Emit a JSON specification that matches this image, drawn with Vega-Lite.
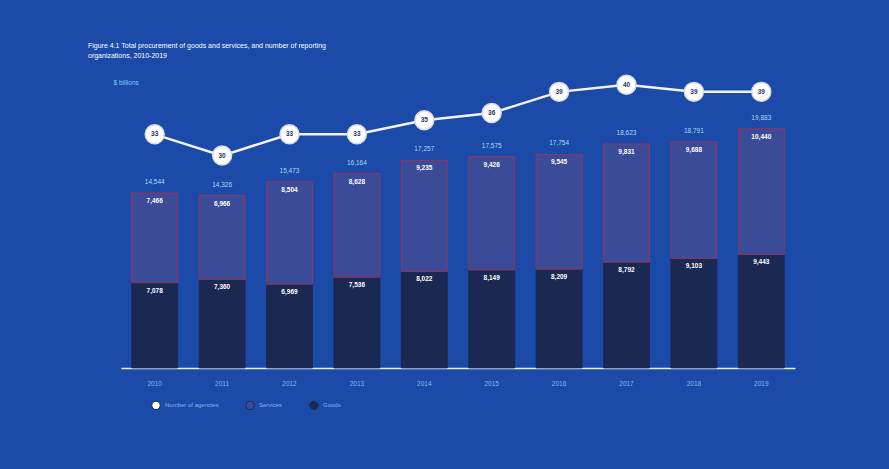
{
  "$schema": "https://vega.github.io/schema/vega-lite/v6.json",
  "width": 674,
  "height": 308,
  "autosize": {"type": "none"},
  "padding": {"left": 121, "top": 60, "right": 94, "bottom": 101},
  "background": "#1b4aa8",
  "config": {"view": {"stroke": null}, "font": "Liberation Sans"},
  "title": {
    "text": ["Figure 4.1 Total procurement of goods and services, and number of reporting", "organizations, 2010-2019"],
    "anchor": "start",
    "frame": "group",
    "dx": -33,
    "offset": 1,
    "fontSize": 7,
    "fontWeight": "normal",
    "color": "#ffffff",
    "lineHeight": 10
  },
  "datasets": {
    "proc": [
      {"year": "2010", "type": "Goods", "value": 7078},
      {"year": "2010", "type": "Services", "value": 7466},
      {"year": "2011", "type": "Goods", "value": 7360},
      {"year": "2011", "type": "Services", "value": 6966},
      {"year": "2012", "type": "Goods", "value": 6969},
      {"year": "2012", "type": "Services", "value": 8504},
      {"year": "2013", "type": "Goods", "value": 7536},
      {"year": "2013", "type": "Services", "value": 8628},
      {"year": "2014", "type": "Goods", "value": 8022},
      {"year": "2014", "type": "Services", "value": 9235},
      {"year": "2015", "type": "Goods", "value": 8149},
      {"year": "2015", "type": "Services", "value": 9426},
      {"year": "2016", "type": "Goods", "value": 8209},
      {"year": "2016", "type": "Services", "value": 9545},
      {"year": "2017", "type": "Goods", "value": 8792},
      {"year": "2017", "type": "Services", "value": 9831},
      {"year": "2018", "type": "Goods", "value": 9103},
      {"year": "2018", "type": "Services", "value": 9688},
      {"year": "2019", "type": "Goods", "value": 9443},
      {"year": "2019", "type": "Services", "value": 10440}
    ],
    "agencies": [
      {"year": "2010", "orgs": 33},
      {"year": "2011", "orgs": 30},
      {"year": "2012", "orgs": 33},
      {"year": "2013", "orgs": 33},
      {"year": "2014", "orgs": 35},
      {"year": "2015", "orgs": 36},
      {"year": "2016", "orgs": 39},
      {"year": "2017", "orgs": 40},
      {"year": "2018", "orgs": 39},
      {"year": "2019", "orgs": 39}
    ]
  },
  "encoding": {
    "x": {
      "field": "year",
      "type": "ordinal",
      "scale": {"paddingInner": 0.32, "paddingOuter": 0.16},
      "axis": {
        "title": null,
        "labelAngle": 0,
        "labelFontSize": 6.5,
        "labelColor": "#7fbde8",
        "labelPadding": 12,
        "ticks": false,
        "domainColor": "#e8f0ff",
        "domainWidth": 1.5
      }
    }
  },
  "layer": [
    {
      "data": {"name": "proc"},
      "layer": [
        {
          "mark": {"type": "bar", "width": 46, "strokeWidth": 1, "strokeOpacity": 0.8},
          "encoding": {
            "y": {
              "field": "value",
              "type": "quantitative",
              "stack": "zero",
              "scale": {"domain": [0, 25600]},
              "axis": {
                "title": "$ billions",
                "titleAngle": 0,
                "titleAlign": "left",
                "titleBaseline": "middle",
                "titleX": -8,
                "titleY": 22,
                "titleColor": "#7fd0f0",
                "titleFontSize": 6.5,
                "titleFontWeight": "normal",
                "labels": false,
                "ticks": false,
                "domain": false,
                "grid": false
              }
            },
            "fill": {
              "field": "type",
              "type": "nominal",
              "scale": {"domain": ["Number of agencies", "Services", "Goods"], "range": ["#ffffff", "#3c4b98", "#1b2852"]},
              "legend": {
                "title": null,
                "orient": "none",
                "direction": "horizontal",
                "legendX": 30,
                "legendY": 340,
                "labelFontSize": 6,
                "labelColor": "#7fbde8",
                "symbolSize": 70,
                "columnPadding": 24,
                "symbolStrokeWidth": 1,
                "encode": {
                  "symbols": {
                    "update": {
                      "shape": {"signal": "datum.value === 'Number of agencies' ? 'circle' : 'square'"},
                      "stroke": {"signal": "datum.value === 'Services' ? '#c0304a' : (datum.value === 'Goods' ? '#1b2852' : '#ffffff')"}
                    }
                  }
                }
              }
            },
            "stroke": {
              "condition": {"test": "datum.type === 'Services'", "value": "#b0304e"},
              "value": "#1b2852"
            },
            "order": {"field": "type", "sort": "ascending"}
          }
        },
        {
          "mark": {"type": "text", "color": "#ffffff", "fontSize": 6.5, "fontWeight": "bold", "baseline": "middle", "dy": 8},
          "encoding": {
            "y": {"field": "value", "type": "quantitative", "stack": "zero", "scale": {"domain": [0, 25600]}},
            "text": {"field": "value", "type": "quantitative", "format": ","},
            "order": {"field": "type", "sort": "ascending"}
          }
        },
        {
          "transform": [{"aggregate": [{"op": "sum", "field": "value", "as": "total"}], "groupby": ["year"]}],
          "mark": {"type": "text", "color": "#a8dcf5", "fontSize": 6.5, "baseline": "middle", "dy": -11},
          "encoding": {
            "y": {"field": "total", "type": "quantitative", "scale": {"domain": [0, 25600]}},
            "text": {"field": "total", "type": "quantitative", "format": ","}
          }
        }
      ]
    },
    {
      "data": {"name": "agencies"},
      "layer": [
        {
          "mark": {"type": "line", "color": "#f2f4fa", "strokeWidth": 2.5},
          "encoding": {
            "y": {"field": "orgs", "type": "quantitative", "scale": {"domain": [0, 43.5]}, "axis": null}
          }
        },
        {
          "mark": {"type": "point", "filled": true, "size": 360, "color": "#ffffff", "opacity": 1, "stroke": "#d8dce8", "strokeWidth": 1.5},
          "encoding": {
            "y": {"field": "orgs", "type": "quantitative", "scale": {"domain": [0, 43.5]}, "axis": null},
            "fill": {"datum": "Number of agencies", "type": "nominal"}
          }
        },
        {
          "mark": {"type": "text", "color": "#2a3560", "fontSize": 6.5, "fontWeight": "bold", "baseline": "middle"},
          "encoding": {
            "y": {"field": "orgs", "type": "quantitative", "scale": {"domain": [0, 43.5]}, "axis": null},
            "text": {"field": "orgs", "type": "quantitative"}
          }
        }
      ]
    }
  ],
  "resolve": {"scale": {"y": "independent"}}
}
